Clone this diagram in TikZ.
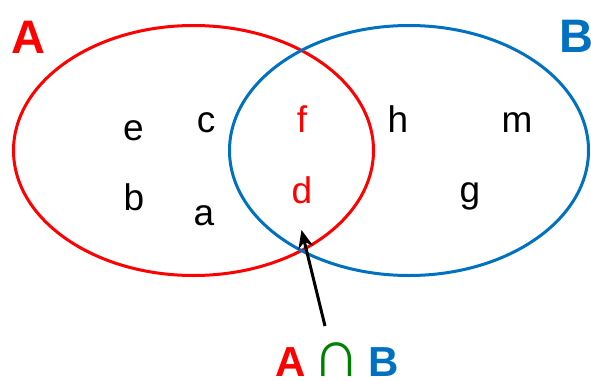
\documentclass[tikz,border=0pt]{standalone}
\usepackage{fontspec}
\usepackage{graphicx}
\setmainfont{Liberation Sans}
\usetikzlibrary{arrows.meta}
\definecolor{vred}{RGB}{255,0,0}
\definecolor{vblue}{RGB}{0,112,192}
\definecolor{vgreen}{RGB}{0,128,0}
\begin{document}
\begin{tikzpicture}[x=1pt,y=-1pt,
  setA/.style={draw=vred,line width=3pt},
  setB/.style={draw=vblue,line width=3pt},
  elem/.style={anchor=base,inner sep=0pt,font=\fontsize{37}{40}\selectfont},
  setlabel/.style={anchor=base,inner sep=0pt,font=\fontsize{47}{50}\selectfont\bfseries},
  botlabel/.style={anchor=base,inner sep=0pt,font=\fontsize{42}{46}\selectfont\bfseries},
  pointer/.style={-{Stealth[length=18pt,width=15pt]},line width=3pt,black}]
\useasboundingbox (0,0) rectangle (591,380);
% sets
\draw[setA] (193.5,150.5) ellipse [x radius=180pt, y radius=125pt];
\draw[setB] (409,150.5) ellipse [x radius=179.5pt, y radius=125pt];
% set names
\node[setlabel,text=vred] (nameA) at (28,53) {A};
\node[setlabel,text=vblue] (nameB) at (576,52) {B};
% elements
\node[elem] (e) at (133.5,140) {e};
\node[elem] (c) at (206,132) {c};
\node[elem] (b) at (134,210) {b};
\node[elem] (a) at (204,225) {a};
\node[elem,text=vred] (f) at (302,132) {f};
\node[elem,text=vred] (d) at (302,203) {d};
\node[elem] (h) at (398,132) {h};
\node[elem] (m) at (517,132) {m};
\node[elem] (g) at (470,202) {g};
% intersection label
\node[botlabel] (inter) at (337,376) {\textcolor{vred}{A}\hspace{7pt}{\mdseries\color{vgreen}\scalebox{1.6}{∩}}\hspace{7pt}\textcolor{vblue}{B}};
\coordinate (tail) at (325,326);
\coordinate (tip) at (301.5,230);
\draw[pointer] (tail) -- (tip);
\end{tikzpicture}
\end{document}
